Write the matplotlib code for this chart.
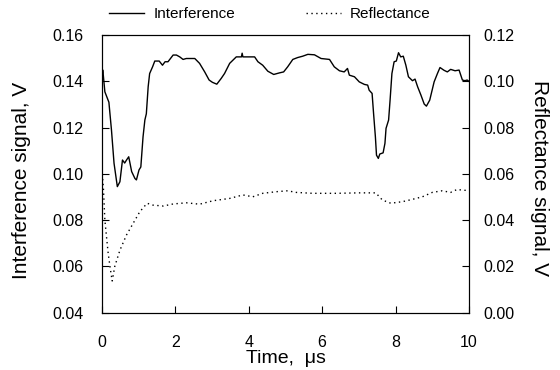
import numpy as np
import matplotlib.pyplot as plt

plt.rcParams['font.family'] = ['Liberation Sans', 'DejaVu Sans']

# Interference signal (left axis)
t_int = [0.00, 0.02, 0.03, 0.08, 0.19, 0.26, 0.33, 0.42, 0.49, 0.56, 0.62, 0.67,
         0.73, 0.81, 0.90, 0.94, 1.01, 1.06, 1.12, 1.17, 1.21, 1.26, 1.30, 1.38,
         1.44, 1.56, 1.65, 1.72, 1.80, 1.94, 2.03, 2.12, 2.21, 2.30, 2.53, 2.66,
         2.80, 2.92, 3.01, 3.13, 3.25, 3.34, 3.48, 3.66, 3.80, 3.82, 3.84, 4.16,
         4.25, 4.38, 4.52, 4.68, 4.84, 4.95, 5.06, 5.20, 5.33, 5.47, 5.61, 5.79,
         5.97, 6.20, 6.33, 6.47, 6.60, 6.69, 6.74, 6.88, 7.01, 7.15, 7.24, 7.28,
         7.36, 7.40, 7.45, 7.48, 7.53, 7.57, 7.66, 7.71, 7.74, 7.81, 7.85, 7.90,
         7.96, 8.02, 8.08, 8.14, 8.21, 8.28, 8.35, 8.46, 8.53, 8.60, 8.69, 8.78,
         8.84, 8.93, 9.05, 9.14, 9.21, 9.32, 9.41, 9.50, 9.62, 9.73, 9.82, 9.89,
         9.95, 10.0]
v_int = [0.141, 0.145, 0.144, 0.1355, 0.131, 0.119, 0.1046, 0.0945, 0.0966, 0.106,
         0.1047, 0.106, 0.1074, 0.101, 0.098, 0.0974, 0.1017, 0.103, 0.116, 0.1233,
         0.126, 0.1377, 0.1434, 0.1463, 0.1488, 0.1488, 0.147, 0.1485, 0.1485,
         0.1514, 0.1514, 0.1506, 0.1495, 0.1499, 0.1499, 0.1478, 0.1441, 0.1406,
         0.1396, 0.1388, 0.1413, 0.1434, 0.1478, 0.1506, 0.1506, 0.1522, 0.1506,
         0.1506, 0.1485, 0.147, 0.1444, 0.143, 0.1437, 0.1441, 0.1463, 0.1495,
         0.1503, 0.1509, 0.1517, 0.1515, 0.1499, 0.1495, 0.1463, 0.1446, 0.1441,
         0.1456, 0.1427, 0.142, 0.1398, 0.1387, 0.1384, 0.1362, 0.1348, 0.1262,
         0.116, 0.1081, 0.1067, 0.1086, 0.1091, 0.1132, 0.1197, 0.1233, 0.1319,
         0.1434, 0.1485, 0.1488, 0.1524, 0.1506, 0.1509, 0.147, 0.142, 0.1403,
         0.141, 0.1377, 0.1341, 0.1302, 0.1293, 0.1319, 0.1398, 0.1434, 0.146,
         0.1448, 0.1441, 0.1452, 0.1446, 0.1449, 0.1406, 0.1403, 0.1406, 0.1400]

# Reflectance signal (right axis)
t_ref = [0.00, 0.04, 0.08, 0.17, 0.22, 0.28, 0.35, 0.49, 0.67, 0.85, 1.03, 1.23,
         1.39, 1.67, 1.94, 2.30, 2.66, 3.03, 3.48, 3.84, 4.11, 4.38, 4.75, 5.06,
         5.29, 5.74, 6.38, 7.01, 7.46, 7.64, 7.87, 8.19, 8.46, 8.73, 9.00, 9.27,
         9.50, 9.68, 9.80, 10.0]
v_ref = [0.062, 0.054, 0.040, 0.0257, 0.0199, 0.0137, 0.020, 0.027, 0.0336, 0.0386,
         0.0436, 0.0473, 0.0465, 0.0461, 0.047, 0.0475, 0.0469, 0.0484, 0.0494,
         0.0509, 0.0501, 0.0516, 0.0523, 0.0527, 0.052, 0.0516, 0.0516, 0.0518,
         0.0518, 0.0487, 0.0473, 0.048, 0.049, 0.0501, 0.052, 0.0527, 0.052,
         0.0533, 0.053, 0.0528]

fig = plt.figure(figsize=(5.6, 3.7), dpi=100)
ax = fig.add_axes([0.182, 0.155, 0.6555, 0.750])
ax2 = ax.twinx()

l1, = ax.plot(t_int, v_int, color='black', lw=1.0, label='Interference')
l2, = ax2.plot(t_ref, v_ref, color='black', lw=1.0, ls=(0, (1, 2.5)), label='Reflectance')

ax.set_xlim(0, 10)
ax.set_ylim(0.04, 0.16)
ax2.set_ylim(0.0, 0.12)
ax.set_xticks(np.arange(0, 11, 2))
ax.set_yticks(np.arange(0.04, 0.161, 0.02))
ax2.set_yticks(np.arange(0.0, 0.121, 0.02))
ax.yaxis.set_major_formatter(plt.FormatStrFormatter('%.2f'))
ax2.yaxis.set_major_formatter(plt.FormatStrFormatter('%.2f'))

ax.tick_params(axis='both', direction='in', length=5, labelsize=11.5)
ax.tick_params(axis='y', pad=13)
ax.tick_params(axis='x', pad=16)
ax2.tick_params(axis='y', direction='in', length=5, labelsize=11.5, pad=10)

ax.set_xlabel('Time,  μs', fontsize=14)
ax.xaxis.set_label_coords(0.5, -0.135)
ax.set_ylabel('Interference signal, V', fontsize=15, va='center')
ax.yaxis.set_label_coords(-0.218, 0.475)
ax2.set_ylabel('Reflectance signal, V', fontsize=15, rotation=270, va='center')
ax2.yaxis.set_label_coords(1.193, 0.485)

fig.legend(handles=[l1, l2], loc='center', bbox_to_anchor=(0.482, 0.962), ncol=2,
           frameon=False, fontsize=11, handlelength=2.3, columnspacing=4.6,
           handletextpad=0.6)

fig.savefig('out.png', dpi=100)
